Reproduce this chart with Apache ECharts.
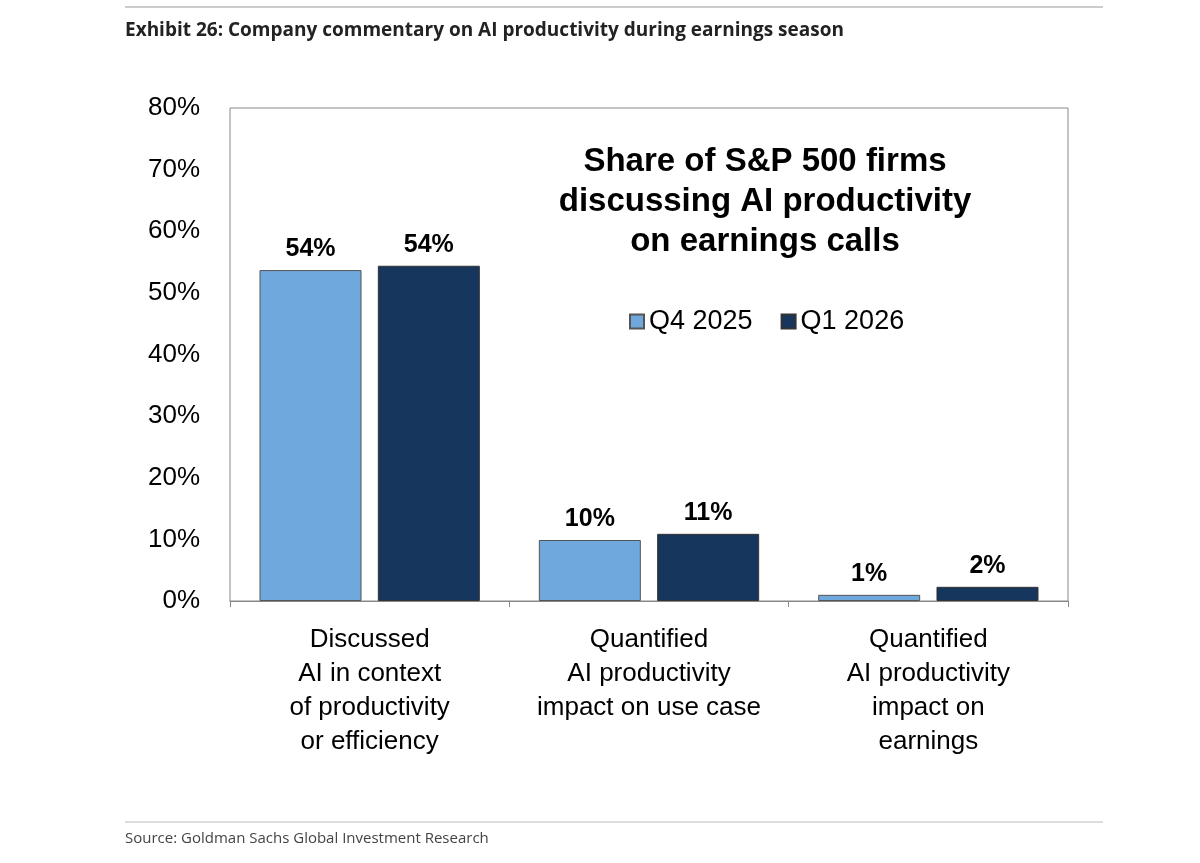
<!DOCTYPE html>
<html><head><meta charset="utf-8">
<script src="https://cdn.jsdelivr.net/npm/echarts@6/dist/echarts.min.js"></script>
<style>html,body{margin:0;background:#fff}#c{width:1200px;height:863px}</style>
</head><body><div id="c"></div>
<script>
const categories = ["Discussed\nAI in context\nof productivity\nor efficiency", "Quantified\nAI productivity\nimpact on use case", "Quantified\nAI productivity\nimpact on\nearnings"];
const q4_2025 = [53.7, 9.9, 1.0];
const q1_2026 = [54.4, 10.9, 2.3];
const labelsQ4 = ["54%", "10%", "1%"];
const labelsQ1 = ["54%", "11%", "2%"];
const F = "Liberation Sans, Arial, sans-serif";
const chart = echarts.init(document.getElementById('c'));
const lbl = arr => ({show:true, position:'top', distance:8, fontFamily:F, fontSize:25, fontWeight:'bold', color:'#000', formatter:p=>arr[p.dataIndex]});
chart.setOption({
  animation:false,
  graphic:[
    {type:'line', shape:{x1:125,y1:7,x2:1103,y2:7}, style:{stroke:'#999',lineWidth:1}},
    {type:'text', left:125, top:21, style:{text:'Exhibit 26: Company commentary on AI productivity during earnings season', font:'bold 19px "Open Sans", sans-serif', fill:'#222'}},
    {type:'line', shape:{x1:125,y1:822,x2:1103,y2:822}, style:{stroke:'#bbb',lineWidth:1}},
    {type:'text', left:125, top:831, style:{text:'Source: Goldman Sachs Global Investment Research', font:'15px "Open Sans", sans-serif', fill:'#444'}},
    {type:'text', x:765, y:142, style:{text:'Share of S&P 500 firms\ndiscussing AI productivity\non earnings calls', align:'center', verticalAlign:'top', font:'bold 33px '+F, lineHeight:40, fill:'#000'}},
    {type:'rect', shape:{x:230,y:108,width:838,height:493}, style:{fill:'none',stroke:'#888',lineWidth:1}, z:-1}
  ],
  legend:{top:303, left:624, itemWidth:14, itemHeight:14, itemGap:28, textStyle:{fontFamily:F,fontSize:27,color:'#000'}, icon:'rect', data:['Q4 2025','Q1 2026']},
  grid:{left:230, right:132, top:108, bottom:262},
  xAxis:{type:'category', data:categories, axisLine:{lineStyle:{color:'#888'}}, axisTick:{show:true,length:6,lineStyle:{color:'#888'}}, axisLabel:{interval:0, fontFamily:F, fontSize:26, color:'#000', lineHeight:34, margin:22}},
  yAxis:{type:'value', min:0, max:80, interval:10, splitLine:{show:false}, axisLine:{show:false}, axisTick:{show:false}, axisLabel:{fontFamily:F, fontSize:26, color:'#000', margin:30, formatter:'{value}%'}},
  series:[
    {name:'Q4 2025', type:'bar', data:q4_2025, barWidth:102, barGap:'16%', itemStyle:{color:'#6fa8dc', borderColor:'#555', borderWidth:1}, label:lbl(labelsQ4)},
    {name:'Q1 2026', type:'bar', data:q1_2026, barWidth:102, itemStyle:{color:'#17365d', borderColor:'#333', borderWidth:1}, label:lbl(labelsQ1)}
  ]
});
</script></body></html>
